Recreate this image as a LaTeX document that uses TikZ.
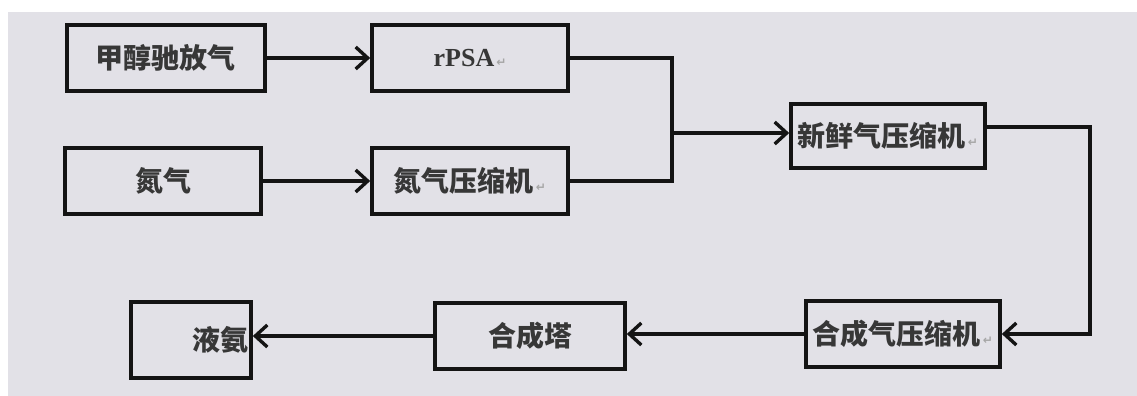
\documentclass[tikz,border=0pt]{standalone}
\usepackage{fontspec}
\setmainfont{Liberation Serif}
\newfontfamily\cjk{Noto Sans CJK SC}
\newfontfamily\symfont{DejaVu Sans}
\usetikzlibrary{calc}
\usetikzlibrary{arrows.meta}
\usetikzlibrary{positioning}
\definecolor{bgcol}{RGB}{226,225,231}
\definecolor{inkcol}{RGB}{20,20,20}
\newcommand{\parmark}{{\symfont\fontsize{6}{6}\selectfont\color{gray!70}\,↵}}
\tikzset{block/.style={draw=inkcol, line width=1.8pt, text centered, text=inkcol!85, font=\cjk\bfseries\fontsize{14}{16}\selectfont, inner sep=1pt}}
\tikzset{connect/.style={draw=inkcol, line width=1.7pt, -{Straight Barb[length=6pt,width=11pt,line width=1.7pt]}}}
\tikzset{plain/.style={draw=inkcol, line width=1.7pt}}

\begin{document}
\begin{tikzpicture}

\fill[white] (0,0) rectangle (568.5pt,-198pt);
\fill[bgcol] (4pt,-6pt) rectangle (568.5pt,-198pt);
\useasboundingbox (0,0) rectangle (568.5pt,-198pt);

\node[block,minimum height=33pt,minimum width=99pt] (meth) at (83pt,-29pt) {甲醇驰放气};
\node[block,minimum height=33pt,minimum width=98pt,font=\rmfamily\bfseries\fontsize{13}{15}\selectfont] (rpsa) at([xshift=152pt]meth) {rPSA\parmark};
\node[block,minimum height=33pt,minimum width=98pt] (n2) at([xshift=-1.5pt,yshift=-61.5pt]meth) {氮气};
\node[block,minimum height=33pt,minimum width=98pt] (n2comp) at([xshift=153.5pt]n2) {氮气压缩机\parmark};

\node[block,minimum height=32pt,minimum width=97pt] (fresh) at([xshift=209pt,yshift=-39pt]rpsa) {新鲜气压缩机\parmark};
\node[block,minimum height=33pt,minimum width=97pt] (syncomp) at([xshift=7.5pt,yshift=-99pt]fresh) {合成气压缩机\parmark};
\node[block,minimum height=33pt,minimum width=95pt] (tower) at([xshift=-186.5pt,yshift=-1pt]syncomp) {合成塔};
\node[block,minimum height=38pt,minimum width=59pt,text width=58pt,align=right] (ammonia) at([xshift=-169.5pt,yshift=-2pt]tower) {液氨};

\coordinate (join) at (336pt,-66.5pt);

\path[connect] (meth.east) -- (rpsa.west);
\path[connect] (n2.east) -- (n2comp.west);

\path[plain] (rpsa.east) -| (join) |- (n2comp.east);
\path[connect] (join) -- (join -| fresh.west);

\path[connect] ([yshift=4.5pt]fresh.east) -- ++ (51.5pt,0) |- (syncomp.east);
\path[connect] (syncomp.west) -- (syncomp.west -| tower.east);
\path[connect] (tower.west) -- (tower.west -| ammonia.east);

\end{tikzpicture}
\end{document}
